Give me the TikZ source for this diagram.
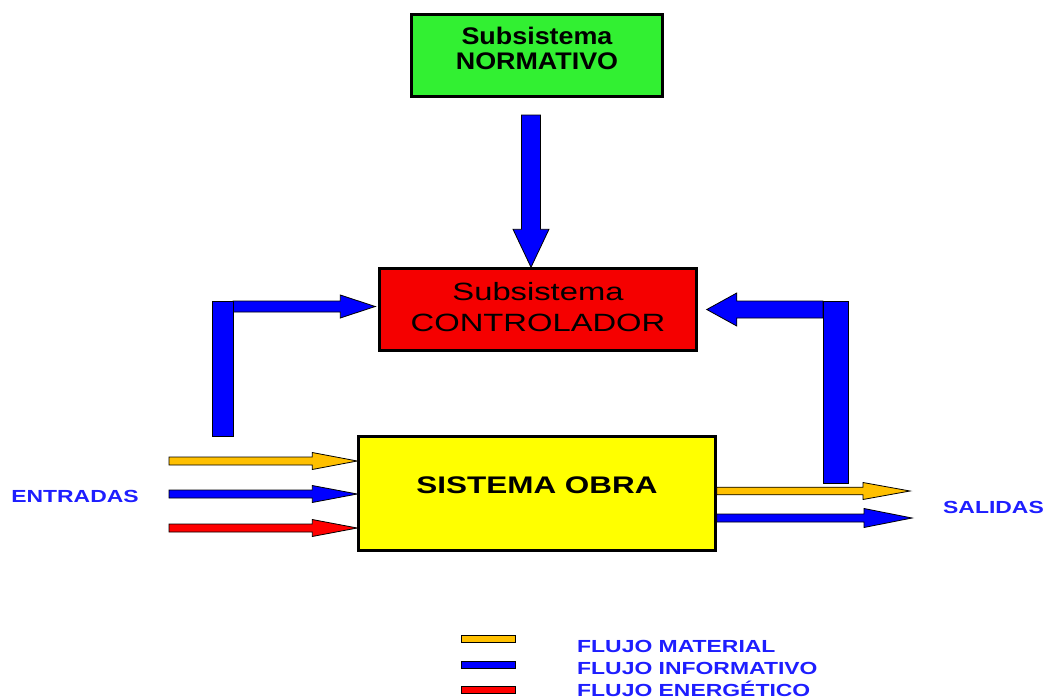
\documentclass[tikz,border=0pt]{standalone}
\usepackage{fontspec}
\setmainfont{Liberation Sans}
\newfontfamily\letraNorma{Liberation Sans}[FakeStretch=1.12]
\newfontfamily\letraAncha{Liberation Sans}[FakeStretch=1.31]
\usetikzlibrary{calc, positioning}
\definecolor{verdeNorma}{RGB}{50, 240, 50}
\definecolor{rojoControl}{RGB}{245, 0, 0}
\definecolor{amarilloObra}{RGB}{255, 255, 0}
\definecolor{amarilloFlujo}{RGB}{255, 192, 0}
\definecolor{azulFlujo}{RGB}{0, 0, 255}
\definecolor{rojoFlujo}{RGB}{255, 0, 0}
\definecolor{azulTexto}{RGB}{30, 30, 255}

\begin{document}
\begin{tikzpicture}[x=1pt, y=-1pt,
            caja/.style={rectangle, draw=black, line width=2.5pt, align=center, inner sep=0pt},
            flujo/.style n args={3}{draw=black, line width=0.8pt, to path={
                ($(\tikztostart)!#1!90:(\tikztotarget)$)
                -- ($(\tikztotarget)!#3!(\tikztostart)!#1!-90:(\tikztostart)$)
                -- ($(\tikztotarget)!#3!(\tikztostart)!#2!-90:(\tikztostart)$)
                -- (\tikztotarget)
                -- ($(\tikztotarget)!#3!(\tikztostart)!#2!90:(\tikztostart)$)
                -- ($(\tikztotarget)!#3!(\tikztostart)!#1!90:(\tikztostart)$)
                -- ($(\tikztostart)!#1!-90:(\tikztotarget)$) -- cycle}},
            barra/.style={draw=black, line width=0.8pt, fill=azulFlujo},
            rotulo/.style={text=azulTexto, inner sep=0pt, font=\letraAncha\bfseries\fontsize{17.5}{21}\selectfont},
            muestra/.style={rectangle, draw=black, line width=0.8pt, minimum width=54pt, minimum height=7pt, inner sep=0pt}]

            \useasboundingbox (0,0) rectangle (1049,699);

            \node[caja, fill=verdeNorma, minimum width=251pt, minimum height=82pt, text depth=13.5pt, font=\letraNorma\bfseries\fontsize{24}{25}\selectfont] (norma) at (537,55.5) {Subsistema\\NORMATIVO};
            \node[caja, fill=rojoControl, minimum width=317pt, minimum height=82pt, text depth=4.3pt, font=\letraAncha\fontsize{25}{31}\selectfont] (control) at (538,309.5) {Subsistema\\CONTROLADOR};
            \node[caja, fill=amarilloObra, minimum width=357pt, minimum height=114pt, text depth=16pt, font=\letraAncha\bfseries\fontsize{24}{29}\selectfont] (obra) at (537,493.5) {SISTEMA OBRA};

            \node[rotulo] (entradas) at (75,496.5) {ENTRADAS};
            \node[rotulo] (salidas) at (993.5,507) {SALIDAS};

            % entradas
            \coordinate (entMat) at (169,461);
            \coordinate (entInf) at (169,494);
            \coordinate (entEne) at (169,528);
            \draw[flujo={4pt}{8.5pt}{45pt}, fill=amarilloFlujo] (entMat) to (entMat -| obra.west);
            \draw[flujo={4pt}{8.5pt}{45pt}, fill=azulFlujo] (entInf) to (entInf -| obra.west);
            \draw[flujo={4pt}{8.5pt}{45pt}, fill=rojoFlujo] (entEne) to (entEne -| obra.west);

            % salidas
            \coordinate (salMat) at (910,491);
            \coordinate (salInf) at (912,518);
            \draw[flujo={3.8pt}{8.5pt}{47pt}, fill=amarilloFlujo] (salMat -| obra.east) to (salMat);
            \draw[flujo={4pt}{9.5pt}{48pt}, fill=azulFlujo] (salInf -| obra.east) to (salInf);

            % norma -> control
            \coordinate (bajada) at (531,115);
            \draw[flujo={9.5pt}{18pt}{38pt}, fill=azulFlujo] (bajada) to (bajada |- control.north);

            % realimentacion
            \coordinate (retIzq) at (233,306.5);
            \coordinate (retDer) at (823,309.5);
            \draw[flujo={5.5pt}{11.5pt}{35pt}, fill=azulFlujo] (retIzq) to ($(retIzq -| control.west)+(-3,0)$);
            \draw[flujo={8.5pt}{16.5pt}{30pt}, fill=azulFlujo] (retDer) to ($(retDer -| control.east)+(9,0)$);
            \draw[barra] (212,301) rectangle (233,436);
            \draw[barra] (823,301) rectangle (848,483);

            % leyenda
            \node[muestra, fill=amarilloFlujo] (muMat) at (488,639) {};
            \node[muestra, fill=azulFlujo] (muInf) at (488,665) {};
            \node[muestra, fill=rojoFlujo] (muEne) at (488,690) {};
            \node[rotulo, anchor=base west] (leMat) at (577,652) {FLUJO MATERIAL};
            \node[rotulo, anchor=base west] (leInf) at (577,674) {FLUJO INFORMATIVO};
            \node[rotulo, anchor=base west] (leEne) at (577,696) {FLUJO ENERGÉTICO};
        \end{tikzpicture}
\end{document}
